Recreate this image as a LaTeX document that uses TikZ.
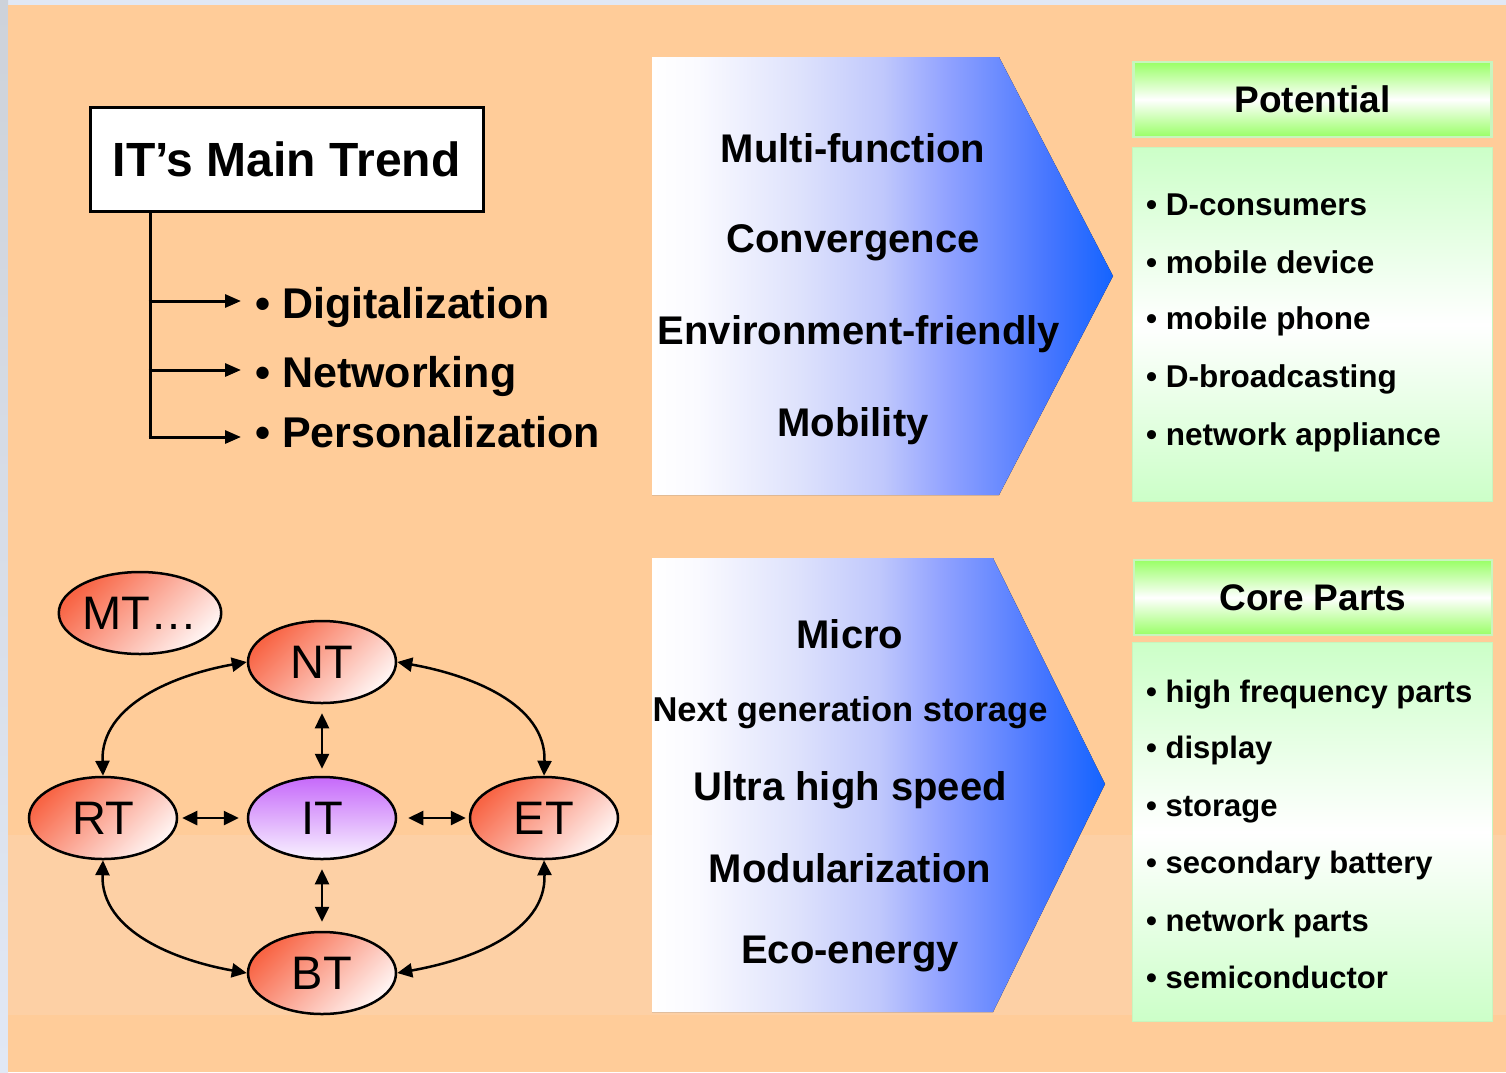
\documentclass[tikz,border=0pt]{standalone}
\usepackage{fontspec}
\setmainfont{Liberation Sans}
\usetikzlibrary{arrows.meta,shapes.geometric}
\definecolor{peach}{RGB}{255,204,153}
\definecolor{peachband}{RGB}{253,208,165}
\definecolor{pageblue}{RGB}{225,232,245}
\definecolor{pagegrey}{RGB}{205,210,218}
\definecolor{chevblue}{RGB}{20,100,255}
\definecolor{chevA}{RGB}{250,250,255}
\definecolor{chevB}{RGB}{222,226,252}
\definecolor{chevC}{RGB}{192,200,252}
\definecolor{chevD}{RGB}{145,162,255}
\definecolor{chevE}{RGB}{70,118,255}
\definecolor{hdrgreen}{RGB}{153,255,102}
\definecolor{bodygreen}{RGB}{204,255,200}
\definecolor{edgegreen}{RGB}{200,245,190}
\definecolor{nodered}{RGB}{248,100,68}
\definecolor{nodepale}{RGB}{255,244,242}
\definecolor{nodepurple}{RGB}{198,105,250}
\definecolor{purplepale}{RGB}{248,242,255}
\pgfdeclarehorizontalshading{chevshade}{100bp}{color(0bp)=(white); color(25bp)=(white); color(30bp)=(chevA);
  color(41bp)=(chevB); color(50bp)=(chevC); color(57bp)=(chevD); color(68bp)=(chevE); color(75bp)=(chevblue); color(100bp)=(chevblue)}
\begin{document}
\begin{tikzpicture}[x=1pt,y=-1pt,
  txt/.style={inner sep=0pt, font=\fontsize{#1}{#1}\selectfont\bfseries},
  tnode/.style={ellipse, draw=black, line width=2.5pt, minimum width=148pt, minimum height=82pt, inner sep=0pt,
     top color=nodered, bottom color=nodepale, shading angle=45, font=\fontsize{47}{47}\selectfont},
  inode/.style={tnode, top color=nodepurple, bottom color=purplepale},
  tipA/.tip={Triangle[length=15pt,width=14pt]},
  dbl/.style={tipA-tipA, line width=2.5pt},
  treearrow/.style={-{Triangle[length=16pt,width=13pt]}, line width=3pt},
  hdr/.style={rectangle, draw=edgegreen, line width=2.5pt, minimum width=358pt, minimum height=75pt,
     top color=hdrgreen, bottom color=hdrgreen, middle color=white, inner sep=0pt,
     font=\fontsize{37}{37}\selectfont\bfseries},
  bodybox/.style={rectangle, draw=edgegreen, line width=1.5pt, minimum width=360pt,
     top color=bodygreen, bottom color=bodygreen, middle color=white, inner sep=0pt},
  chev/.style={shading=chevshade}
]
\useasboundingbox (0,0) rectangle (1506,1072);
% page background
\fill[pageblue] (0,0) rectangle (1506,1072);
\fill[left color=pageblue, right color=pagegrey, shading angle=180] (0,0) rectangle (8,1072);
\fill[peach] (8,5) rectangle (1506,1072);
\fill[peachband] (8,835) rectangle (1506,1015);

% ---------- IT's Main Trend ----------
\node[rectangle, draw=black, fill=white, line width=3pt, minimum width=393pt, minimum height=104pt,
      inner sep=0pt, font=\fontsize{48}{48}\selectfont\bfseries] (title) at (286.5,159) {IT’s Main Trend};
\coordinate (root) at (150,211);
\coordinate (a1) at (241,301);
\coordinate (a2) at (241,370);
\coordinate (a3) at (241,437);
\draw[line width=3pt] (root) -- (150,438.5);
\draw[treearrow] (148.5,301) -- (a1);
\draw[treearrow] (148.5,370) -- (a2);
\draw[treearrow] (148.5,437) -- (a3);
\node[txt=43, anchor=base west] (d1) at (255,318) {• Digitalization};
\node[txt=43, anchor=base west] (d2) at (255,387) {• Networking};
\node[txt=43, anchor=base west] (d3) at (255,447) {• Personalization};

% ---------- upper chevron ----------
\fill[chev] (652,57) -- (999,57) -- (1113,276) -- (999,495) -- (652,495) -- cycle;
\node[txt=40, anchor=base] (u1) at (853,162) {Multi-function};
\node[txt=40, anchor=base] (u2) at (853,252) {Convergence};
\node[txt=40, anchor=base] (u3) at (859,344) {Environment-friendly};
\node[txt=40, anchor=base] (u4) at (853,436) {Mobility};

% ---------- lower chevron ----------
\fill[chev] (652,558) -- (993,558) -- (1105,784) -- (993,1012) -- (652,1012) -- cycle;
\node[txt=40, anchor=base] (l1) at (850,648) {Micro};
\node[txt=34.5, anchor=base] (l2) at (850,721) {Next generation storage};
\node[txt=40, anchor=base] (l3) at (850,800) {Ultra high speed};
\node[txt=40, anchor=base] (l4) at (850,882) {Modularization};
\node[txt=40, anchor=base] (l5) at (850,963) {Eco-energy};

% ---------- Potential ----------
\node[hdr] (pot) at (1312.5,99.5) {Potential};
\node[bodybox, minimum height=354pt] (potbody) at (1312.5,324.5) {};
\node[txt=31.5, anchor=base west] (p1) at (1146,215) {• D-consumers};
\node[txt=31.5, anchor=base west] (p2) at (1146,273) {• mobile device};
\node[txt=31.5, anchor=base west] (p3) at (1146,329) {• mobile phone};
\node[txt=31.5, anchor=base west] (p4) at (1146,387) {• D-broadcasting};
\node[txt=31.5, anchor=base west] (p5) at (1146,445) {• network appliance};

% ---------- Core Parts ----------
\node[hdr] (core) at (1313,597.5) {Core Parts};
\node[bodybox, minimum height=379pt] (corebody) at (1312.5,832) {};
\node[txt=31, anchor=base west] (c1) at (1146,702) {• high frequency parts};
\node[txt=31, anchor=base west] (c2) at (1146,758) {• display};
\node[txt=31, anchor=base west] (c3) at (1146,816) {• storage};
\node[txt=31, anchor=base west] (c4) at (1146,873) {• secondary battery};
\node[txt=31, anchor=base west] (c5) at (1146,931) {• network parts};
\node[txt=31, anchor=base west] (c6) at (1146,988) {• semiconductor};

% ---------- technology graph ----------
\node[tnode] (MT) at (140,613) {MT…};
\node[tnode] (NT) at (322,662) {NT};
\node[tnode] (RT) at (103,818) {RT};
\node[inode] (IT) at (322,818) {IT};
\node[tnode] (ET) at (544,818) {ET};
\node[tnode] (BT) at (322,973) {BT};

\draw[dbl, shorten <=9pt, shorten >=7pt] (NT) -- (IT);
\draw[dbl, shorten <=9pt, shorten >=9pt] (IT) -- (BT);
\draw[dbl, shorten <=4pt, shorten >=8pt] (RT) -- (IT);
\draw[dbl, shorten <=11pt, shorten >=3pt] (IT) -- (ET);
\draw[dbl] (NT.west) to[out=190, in=92] (RT.north);
\draw[dbl] (NT.east) to[out=-10, in=88] (ET.north);
\draw[dbl] (RT.south) to[out=-92, in=170] (BT.west);
\draw[dbl] (ET.south) to[out=-88, in=10] (BT.east);
\end{tikzpicture}
\end{document}
